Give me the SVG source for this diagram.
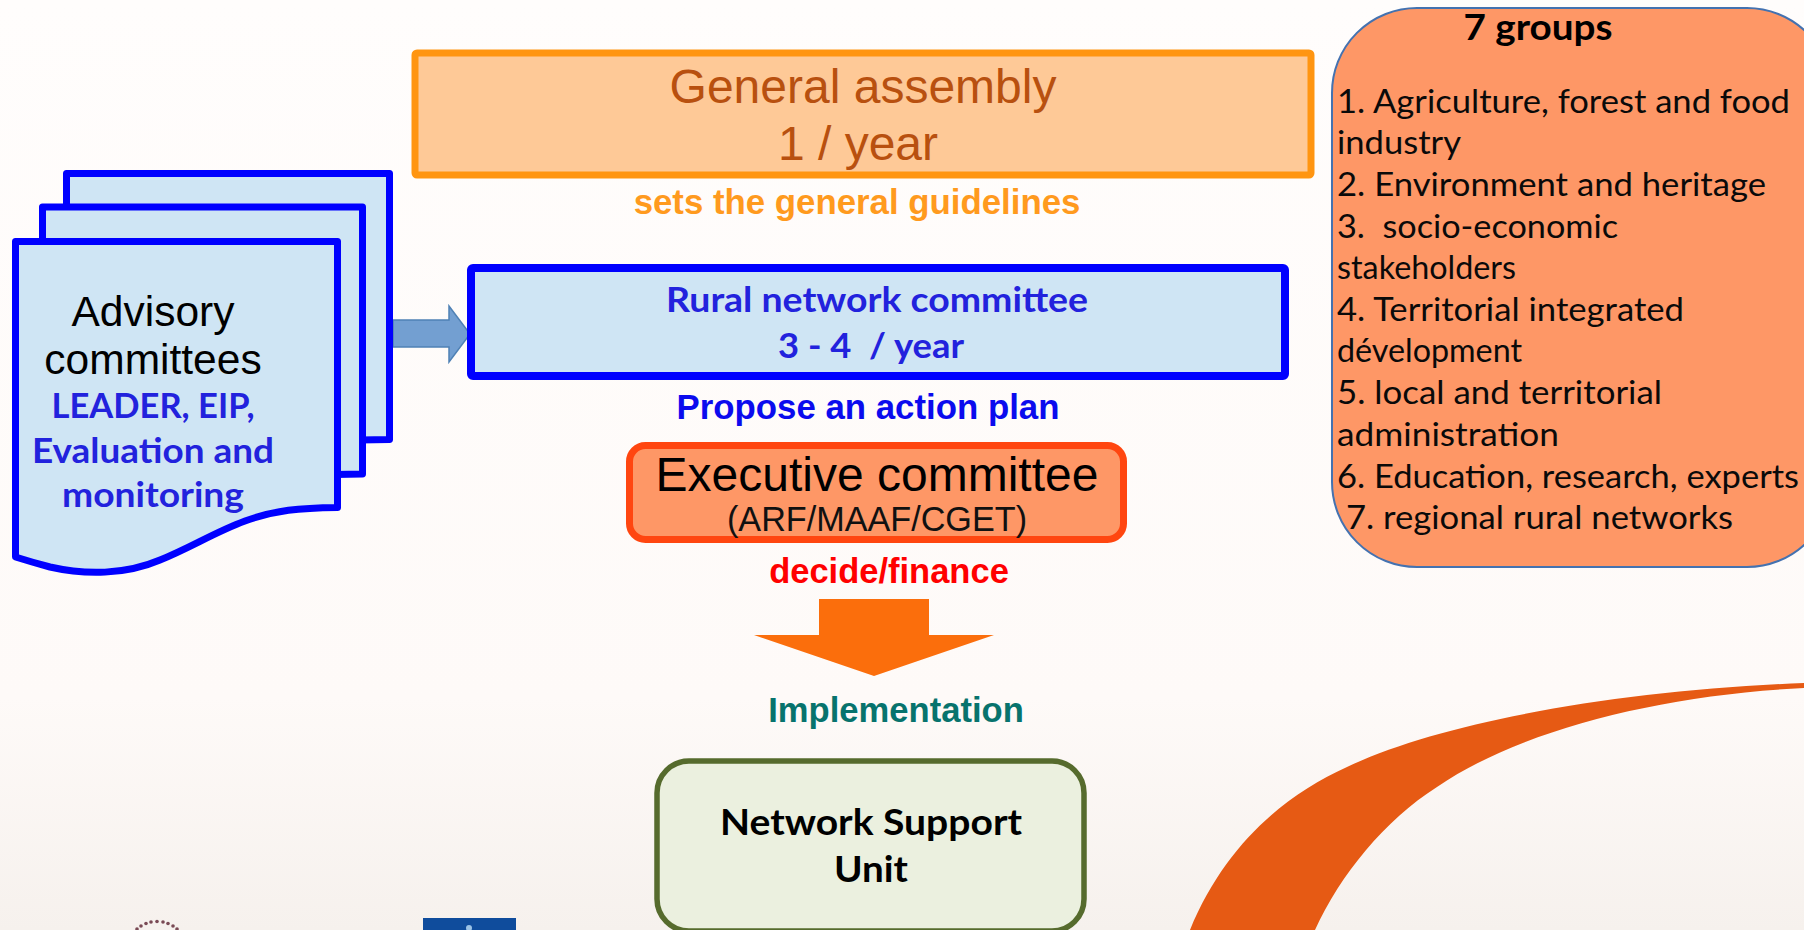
<svg xmlns="http://www.w3.org/2000/svg" width="1804" height="930" viewBox="0 0 1804 930">
<defs>
<linearGradient id="bg" x1="0" y1="0" x2="0" y2="1"><stop offset="0" stop-color="#fffdfc"/><stop offset="0.75" stop-color="#fefaf8"/><stop offset="1" stop-color="#f6f1ed"/></linearGradient>
</defs>
<style>
.a{font-family:"Liberation Sans",Arial,sans-serif}
.c{font-family:Lato,"Open Sans",sans-serif}
.m{text-anchor:middle}
.b{font-weight:700}
.doc{fill:#cfe5f4;stroke:#0000ff;stroke-width:7;stroke-linejoin:round}
.g{font-size:33px;fill:#0a0a0a}
.t{font-size:34px;fill:#2222dd;font-weight:700}
</style>
<rect width="1804" height="930" fill="url(#bg)"/>
<g id="background-art">
<path d="M1190 930C1225 845 1285 795 1347 767C1440 722 1620 690 1804 683V688C1660 695 1520 730 1437 787C1385 820 1340 875 1315 930Z" fill="#e65a14"/>
<g fill="#7a4a55"><circle cx="137" cy="929" r="1.800"/><circle cx="141" cy="926" r="1.800"/><circle cx="146" cy="923.500" r="1.800"/><circle cx="151" cy="922" r="1.800"/><circle cx="157" cy="921.500" r="1.800"/><circle cx="163" cy="922" r="1.800"/><circle cx="168" cy="923.500" r="1.800"/><circle cx="173" cy="926" r="1.800"/><circle cx="177" cy="929" r="1.800"/></g>
<rect x="423" y="918" width="93" height="12" fill="#0f4c9c"/>
<circle cx="469" cy="928" r="3" fill="#9cc3e6"/>
</g>
<g id="connectors">
<path id="arrow-advisory" d="M393 320H449V306L470 334L449 362V347H393Z" fill="#739fd1" stroke="#4f81b5" stroke-width="1.500"/>
<path id="arrow-implementation" d="M819 599H929V635H994L874 676L754 635H819Z" fill="#fb6e0c"/>
</g>
<g id="general-assembly">
<rect x="415" y="53" width="896" height="122" rx="2" fill="#fec997" stroke="#ff9511" stroke-width="7"/>
<text class="a m" x="863" y="103" font-size="48" fill="#b8500f">General assembly</text>
<text class="a m" x="858" y="160" font-size="48" fill="#b8500f">1 / year</text>
</g>
<text id="label-guidelines" class="a m b" x="857" y="214" font-size="34.800" fill="#ff9a1e">sets the general guidelines</text>
<g id="advisory-committees">
<path class="doc" d="M66.500 173.500H389.500V439.500L66.500 445Z"/>
<path class="doc" d="M42.500 207H362.500V474L42.500 480Z"/>
<path class="doc" d="M15.500 241.500H337.500V507.500C300 508 275 510 245 521C215 532 190 548 160 560C125 575 85 575 50 567C35 563 25 560 15.500 557Z"/>
<text class="a m" x="153" y="326" font-size="42.500" fill="#000">Advisory</text>
<text class="a m" x="153" y="374" font-size="42.500" fill="#000">committees</text>
<text class="c m t" x="153" y="418" textLength="203" lengthAdjust="spacingAndGlyphs">LEADER, EIP,</text>
<text class="c m t" x="153" y="463" textLength="242" lengthAdjust="spacingAndGlyphs">Evaluation and</text>
<text class="c m t" x="153" y="507" textLength="182" lengthAdjust="spacingAndGlyphs">monitoring</text>
</g>
<g id="rural-network-committee">
<rect x="471" y="268" width="814" height="108" rx="2" fill="#cfe5f4" stroke="#0000ff" stroke-width="8"/>
<text class="c m t" x="877" y="312" textLength="422" lengthAdjust="spacingAndGlyphs">Rural network committee</text>
<text class="c m t" x="871" y="358" textLength="186" lengthAdjust="spacingAndGlyphs" xml:space="preserve">3 - 4  / year</text>
</g>
<text id="label-action-plan" class="a m b" x="868" y="419" font-size="34.800" fill="#0b0bee">Propose an action plan</text>
<g id="executive-committee">
<rect x="629.500" y="445.500" width="494" height="94" rx="16" fill="#fe9766" stroke="#ff4610" stroke-width="7"/>
<text class="a m" x="877" y="491" font-size="48" fill="#000">Executive committee</text>
<text class="a m" x="877" y="531" font-size="34.200" fill="#111">(ARF/MAAF/CGET)</text>
</g>
<text id="label-decide" class="a m b" x="889" y="583" font-size="34.500" fill="#ff0000">decide/finance</text>
<text id="label-implementation" class="a m b" x="896" y="722" font-size="34.600" fill="#07736d">Implementation</text>
<g id="network-support-unit">
<rect x="657" y="761" width="427" height="170" rx="32" fill="#ebf0df" stroke="#566b2d" stroke-width="5.500"/>
<text class="c m b" x="871" y="835" font-size="36" fill="#000" textLength="302" lengthAdjust="spacingAndGlyphs">Network Support</text>
<text class="c m b" x="871" y="882" font-size="36" fill="#000" textLength="74" lengthAdjust="spacingAndGlyphs">Unit</text>
</g>
<g id="seven-groups">
<rect x="1332" y="8" width="500" height="559" rx="85" fill="#fe9766" stroke="#4472b0" stroke-width="2"/>
<text class="c m b" x="1538" y="40" font-size="36" fill="#000" textLength="149" lengthAdjust="spacingAndGlyphs">7 groups</text>
<text class="c g" x="1337" y="113" textLength="453" lengthAdjust="spacingAndGlyphs">1. Agriculture, forest and food</text>
<text class="c g" x="1337" y="154" textLength="124" lengthAdjust="spacingAndGlyphs">industry</text>
<text class="c g" x="1337" y="196" textLength="429" lengthAdjust="spacingAndGlyphs">2. Environment and heritage</text>
<text class="c g" x="1337" y="238" textLength="281" lengthAdjust="spacingAndGlyphs" xml:space="preserve">3.  socio-economic</text>
<text class="c g" x="1337" y="279" textLength="179" lengthAdjust="spacingAndGlyphs">stakeholders</text>
<text class="c g" x="1337" y="321" textLength="347" lengthAdjust="spacingAndGlyphs">4. Territorial integrated</text>
<text class="c g" x="1337" y="362" textLength="185" lengthAdjust="spacingAndGlyphs">dévelopment</text>
<text class="c g" x="1337" y="404" textLength="325" lengthAdjust="spacingAndGlyphs">5. local and territorial</text>
<text class="c g" x="1337" y="446" textLength="222" lengthAdjust="spacingAndGlyphs">administration</text>
<text class="c g" x="1337" y="488" textLength="462" lengthAdjust="spacingAndGlyphs">6. Education, research, experts</text>
<text class="c g" x="1346" y="529" textLength="387" lengthAdjust="spacingAndGlyphs">7. regional rural networks</text>
</g>
</svg>
